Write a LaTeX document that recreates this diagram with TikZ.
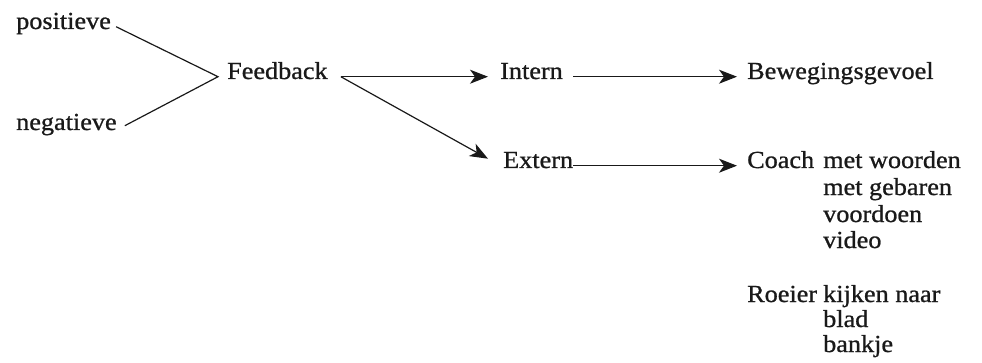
\documentclass[tikz,border=0pt]{standalone}
\usepackage{fontspec}
\setmainfont{Liberation Serif}[FakeStretch=1.07,FakeBold=0.9]
\usetikzlibrary{arrows.meta,calc}
\begin{document}
\begin{tikzpicture}[x=1pt,y=1pt,
  lbl/.style={inner sep=0pt,anchor=base west,font=\fontsize{24.5}{28}\selectfont,text=black!90},
  conn/.style={line width=1.2pt,black!90},
  arr/.style={conn,-{Stealth[length=18pt,width=14pt,inset=5pt]}}]
\useasboundingbox (0,0) rectangle (982,362);
% left side: the two kinds of feedback
\node[lbl] (pos) at (16,333) {positieve};
\node[lbl] (neg) at (16,232) {negatieve};
\node[lbl] (fb)  at (227,283) {Feedback};
% intern / extern
\node[lbl] (int) at (500,283) {Intern};
\node[lbl] (ext) at (503,194) {Extern};
% sources
\node[lbl] (bew) at (747,283) {Bewegingsgevoel};
\node[lbl] (coach) at (747,194) {Coach};
\node[lbl] (c1) at (823,194) {met woorden};
\node[lbl] (c2) at (823,167) {met gebaren};
\node[lbl] (c3) at (823,140) {voordoen};
\node[lbl] (c4) at (823,114) {video};
\node[lbl] (roeier) at (747,60) {Roeier};
\node[lbl] (r1) at (823,60) {kijken naar};
\node[lbl] (r2) at (823,35) {blad};
\node[lbl] (r3) at (823,10) {bankje};
% junction points beside "Feedback"
\coordinate (fin)  at ($(fb.mid west)+(-9,0)$);
\coordinate (fout) at ($(fb.mid east)+(13,0)$);
\coordinate (extin) at ($(ext.mid west)+(-15,7)$);
% connectors
\draw[conn] ($(pos.mid east)+(5,0)$) -- (fin) -- ($(neg.mid east)+(8,2)$);
\draw[arr] (fout) -- ($(int.mid west)+(-12,0)$);
\draw[arr] (fout) -- (extin);
\draw[arr] ($(int.mid east)+(10,0)$) -- ($(bew.mid west)+(-10,0)$);
\draw[arr] (ext.mid east) -- ($(coach.mid west)+(-10,0)$);
\end{tikzpicture}
\end{document}
